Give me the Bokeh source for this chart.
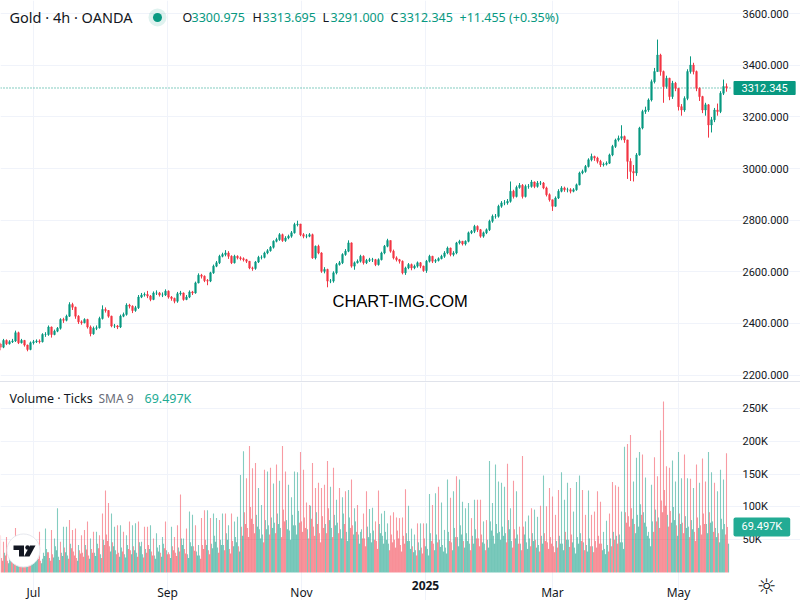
from bokeh.plotting import figure
from bokeh.models import Label, FixedTicker, Div, ColumnDataSource, NumeralTickFormatter
from bokeh.layouts import column
from bokeh.embed import file_html
from bokeh.resources import INLINE

FIRST_OPEN = 2320
CLOSE = [
2308,2334,2321,2329,2332,2364,2325,2334,2316,2299,
2325,2329,2332,2329,2357,2357,2386,2357,2370,2381,
2415,2412,2428,2473,2463,2428,2406,2403,2415,2386,
2360,2381,2383,2419,2454,2450,2428,2390,2390,2386,
2428,2435,2471,2467,2450,2461,2502,2510,2512,2506,
2493,2518,2518,2510,2510,2525,2502,2497,2486,2515,
2518,2493,2502,2522,2518,2557,2587,2583,2566,2564,
2596,2622,2635,2660,2667,2673,2660,2635,2660,2654,
2651,2647,2641,2615,2613,2638,2656,2656,2673,2682,2695,
2718,2725,2744,2721,2731,2738,2751,2783,2785,2744,
2738,2738,2744,2654,2699,2673,2602,2609,2564,2564,
2596,2628,2635,2667,2680,2712,2622,2635,2641,2660,
2635,2644,2647,2647,2628,2647,2673,2699,2721,2680,
2654,2647,2641,2596,2615,2628,2615,2622,2635,2622,
2605,2641,2660,2641,2644,2651,2660,2673,2692,2667,
2673,2712,2718,2708,2718,2751,2757,2776,2763,2738,
2751,2763,2796,2815,2815,2854,2867,2867,2873,
2912,2892,2927,2935,2892,2931,2931,2948,2931,2944,
2944,2925,2899,2879,2854,2886,2912,2925,2918,2918,
2912,2918,2937,2983,2989,3008,3034,3047,3041,3028,
3015,3017,3021,3053,3086,3111,3118,3124,3111,3028,
2989,2983,3053,3157,3221,
3227,3266,3337,3376,3440,3376,3318,3350,3279,3331,
3311,3240,3227,3272,3376,3401,3376,3311,3279,3227,
3247,3169,3189,3227,3221,3292,3318,3312.345]
HIGH = [
2325,2340,2338,2335,2340,2372,2368,2340,2336,2318,
2330,2336,2338,2338,2362,2366,2392,2388,2376,2386,
2420,2422,2434,2482,2480,2465,2432,2412,2420,2418,
2392,2388,2392,2426,2470,2462,2452,2430,2398,2394,
2434,2442,2478,2476,2470,2468,2510,2518,2520,2526,
2510,2524,2528,2522,2520,2532,2528,2506,2500,2522,
2526,2520,2510,2528,2526,2562,2594,2592,2586,2572,
2600,2628,2642,2666,2674,2684,2680,2664,2666,2664,
2660,2656,2650,2642,2620,2642,2662,2664,2678,2688,2700,
2722,2732,2750,2748,2738,2744,2758,2790,2798,2786,
2750,2746,2750,2748,2702,2705,2676,2618,2612,2572,
2602,2634,2642,2672,2688,2722,2714,2640,2648,2666,
2664,2650,2654,2654,2650,2652,2678,2704,2728,2722,
2686,2660,2650,2644,2620,2634,2632,2628,2640,2638,
2624,2646,2666,2662,2650,2656,2666,2680,2698,2694,
2680,2716,2724,2720,2722,2756,2762,2782,2780,2766,
2756,2768,2802,2822,2824,2860,2874,2878,2882,
2950,2918,2934,2944,2940,2938,2940,2956,2950,2952,
2952,2948,2930,2904,2880,2892,2920,2932,2930,2926,
2924,2924,2942,2988,2996,3014,3040,3058,3050,3046,
3034,3024,3028,3058,3092,3116,3128,3168,3128,3112,
3040,3014,3060,3162,3228,
3240,3272,3345,3390,3500,3445,3380,3360,3352,3340,
3336,3312,3250,3280,3385,3435,3410,3380,3315,3282,
3255,3250,3200,3235,3252,3300,3345,3330]
LOW = [
2296,2304,2316,2318,2324,2328,2320,2322,2310,2292,
2296,2318,2324,2322,2326,2348,2352,2345,2354,2366,
2376,2402,2408,2425,2452,2418,2398,2395,2400,2380,
2350,2356,2374,2380,2415,2442,2422,2385,2382,2378,
2382,2424,2430,2458,2440,2445,2456,2498,2504,2498,
2486,2490,2510,2504,2502,2506,2496,2488,2478,2480,
2508,2488,2490,2498,2510,2515,2555,2574,2560,2548,
2560,2592,2618,2630,2656,2660,2650,2630,2632,2648,
2644,2640,2634,2610,2604,2608,2634,2648,2652,2668,2678,
2690,2714,2720,2716,2716,2726,2732,2748,2776,2738,
2730,2730,2734,2650,2648,2668,2596,2594,2540,2556,
2558,2590,2624,2630,2662,2676,2616,2608,2632,2636,
2628,2630,2638,2638,2622,2624,2644,2668,2695,2674,
2648,2640,2632,2590,2588,2610,2606,2610,2616,2614,
2600,2596,2636,2634,2634,2640,2648,2654,2668,2660,
2660,2668,2706,2702,2702,2714,2746,2750,2754,2732,
2732,2746,2758,2790,2806,2810,2848,2858,2860,
2868,2884,2888,2922,2884,2888,2922,2926,2924,2926,
2936,2920,2892,2872,2836,2852,2882,2908,2910,2908,
2904,2908,2914,2935,2978,2984,3004,3028,3030,3020,
3006,3008,3012,3018,3048,3080,3105,3110,3100,2960,
2952,2950,2972,3050,3152,
3212,3220,3260,3330,3375,3360,3255,3310,3265,3270,
3300,3225,3205,3220,3265,3368,3365,3300,3262,3215,
3205,3120,3140,3180,3205,3215,3285,3298]
VOL_PEAK = [
57,47,54,37,47,68,42,47,37,42,37,31,47,62,21,67,31,65,52,98,
47,70,70,80,65,67,42,57,65,78,52,62,62,57,90,125,106,90,70,72,
72,62,57,78,72,75,78,47,70,70,72,52,60,42,54,78,31,70,54,72,
119,52,67,93,88,72,42,83,95,95,83,90,83,80,90,90,72,90,78,85,
149,185,144,193,159,167,129,103,157,154,160,
136,165,140,193,154,134,115,154,153,184,157,107,103,167,129,137,129,134,170,131,
160,111,129,115,124,126,142,98,103,62,90,124,97,99,78,125,90,94,75,87,
92,84,83,84,127,102,67,58,75,75,75,75,120,103,121,131,107,65,142,114,
124,147,142,108,98,106,83,111,111,111,78,80,170,106,165,139,137,131,166,98,
140,124,70,178,78,87,98,96,85,102,
148,101,129,116,88,126,153,111,137,129,93,138,148,126,88,125,88,93,124,108,
62,79,90,138,133,131,93,192,196,210,139,175,184,180,145,62,134,176,147,217,
261,162,160,171,139,184,144,180,144,143,129,165,137,174,139,184,153,137,124,157,
142,182]
VOL_PEAK_SIDE = (
"rrrgrrgrrg"+"rggrggrrgg"+"rggrrrgrrr"+"grgrrrrggr"+"grgrggrgrr"+"grgggrrgrr"+"rgrggrgrrg"+"rggrgrgrgg"+"ggrrrrggrgr"
+"grgrrggggr"+"rrrrrrrrrg"+"rgrgrgrgrg"+"rrggrrgggr"+"rrrrrgggrg"+"rggrgrgggr"+"grggggrgrr"+"grggggggrg"+"rgrrggrggr"
+"grrrrrgggr"+"gggrrgrrrr"+"ggrrrrggrr"+"gggrgggrrr"+"rrrggggrgr"+"grgrrggrgg"+"gr")
VOL_MID = [
22,30,18,26,34,20,28,16,30,24,20,34,26,18,30,36,22,28,40,24,
30,38,26,44,32,22,34,30,42,26,36,30,44,28,50,58,40,46,34,30,
38,28,42,34,40,30,46,28,36,42,32,26,38,30,44,34,28,40,30,38,
52,36,28,46,40,32,26,42,50,34,44,56,38,50,42,60,36,48,54,40,
70,92,68,100,74,88,66,58,80,72,84,
76,90,68,96,80,64,88,72,94,78,84,66,102,70,92,60,86,74,98,68,
88,76,66,90,62,84,72,78,58,66,52,70,60,64,48,74,56,62,44,58,
50,64,42,56,60,48,40,34,46,38,52,36,60,44,58,50,42,38,62,46,
68,54,72,48,60,44,56,66,52,58,44,50,78,56,74,62,70,60,80,48,
66,58,44,70,46,52,60,50,42,56,
60,46,54,40,48,56,44,62,50,58,38,54,60,46,42,52,40,48,56,44,
36,42,52,62,56,58,46,92,86,98,74,88,104,92,70,52,78,96,84,110,
126,88,94,100,72,90,76,86,70,80,62,84,72,90,74,92,78,68,60,82,
74,69.497]
VOL_LOW = [
18,26,14,22,29,16,23,13,26,19,15,28,21,14,25,31,18,23,34,19,
25,31,21,37,26,18,29,24,35,21,30,25,37,22,42,48,32,40,28,24,
32,23,36,28,34,24,40,23,30,36,26,21,32,24,37,28,22,34,25,32,
42,29,22,40,33,26,21,36,42,28,37,47,30,42,34,50,29,40,46,32,
56,74,54,82,60,70,52,46,66,58,68,
60,74,54,78,66,50,72,58,76,62,68,52,82,56,74,46,68,60,80,54,
72,60,52,74,48,68,58,62,44,52,40,54,46,50,36,60,44,50,34,46,
38,52,32,44,48,36,31,26,34,29,40,26,48,34,46,39,32,29,48,34,
54,40,58,38,48,34,44,52,40,46,34,38,64,44,60,50,56,46,66,38,
52,44,34,58,36,40,48,38,32,44,
48,36,44,31,38,44,34,50,39,46,29,44,48,34,32,40,31,38,44,34,
28,32,40,50,44,46,36,76,70,82,60,70,88,76,56,40,62,78,68,92,
102,70,76,80,56,74,60,68,54,66,48,68,58,74,60,76,62,54,46,66,
58,44]
PRICE_TICKS = [2200,2400,2600,2800,3000,3200,3400,3600]
VOL_TICKS = [50,100,150,200,250]
TIME_POS = [11,55.67,100.33,141.67,184,226]
TIME_LABELS = ["Jul","Sep","Nov","","Mar","May"]

UP, DOWN = "#089981", "#f23645"
TXT, GRID = "#131722", "#f0f3fa"
FONT = "Noto Sans"
AXFONT = "Roboto"
PANE_END = 244

n = len(CLOSE)
idx = list(range(n))
opens = [FIRST_OPEN]+CLOSE[:-1]
src = ColumnDataSource(dict(
    x=idx, o=opens, c=CLOSE, h=HIGH, l=LOW,
    col=[UP if c >= o else DOWN for o, c in zip(opens, CLOSE)]))

X_RANGE = (0, 800/3)
def common(fig, ticks):
    fig.xgrid.ticker = FixedTicker(ticks=TIME_POS)
    fig.ygrid.ticker = FixedTicker(ticks=ticks)
    fig.xgrid.grid_line_color = GRID
    fig.ygrid.grid_line_color = GRID
    fig.ygrid.bounds = (0, PANE_END)
    fig.outline_line_color = None
    ax = fig.yaxis[0]
    ax.fixed_location = PANE_END
    ax.ticker = FixedTicker(ticks=ticks)
    ax.axis_line_color = None
    ax.major_tick_line_color = None
    ax.minor_tick_line_color = None
    ax.major_label_text_font = AXFONT
    ax.major_label_text_font_size = "11px"
    ax.major_label_text_color = TXT
    ax.major_label_standoff = 4

p = figure(width=800, height=381, frame_width=800, frame_height=381,
           x_range=X_RANGE, y_range=(2174.9, 3651.4), y_axis_location="right",
           output_backend="svg", toolbar_location=None, min_border=0)
p.xaxis.visible = False
common(p, PRICE_TICKS)
p.yaxis[0].formatter = NumeralTickFormatter(format="0.000")
p.line([0, PANE_END], [CLOSE[-1], CLOSE[-1]], line_color=UP, line_dash=[1, 2], line_width=1)
p.segment("x", "l", "x", "h", source=src, line_color="col", line_width=1)
p.vbar("x", 0.55, "o", "c", source=src, fill_color="col", line_color="col", line_width=0.5)

def lab(fig, x_px, y, text, color=TXT, size="13px", font=FONT, **kw):
    fig.add_layout(Label(x=x_px/3, y=y, text=text, text_color=color, text_font=font,
                         text_font_size=size, text_baseline="middle", **kw))

HEAD = 3400+(64.9-17)/0.258
lab(p, 9, HEAD, "Gold · 4h · OANDA", size="14.5px")
p.scatter([157/3], [HEAD], size=18, marker="circle", fill_color=UP, fill_alpha=0.13, line_color=None)
p.scatter([157/3], [HEAD], size=9, marker="circle", fill_color=UP, line_color=None)
for x_px, t, c in [(182, "O", TXT), (191, "3300.975", UP), (252, "H", TXT), (262, "3313.695", UP),
                   (322, "L", TXT), (330, "3291.000", UP), (390, "C", TXT), (399, "3312.345", UP),
                   (459, "+11.455 (+0.35%)", UP)]:
    lab(p, x_px, HEAD, t, color=c, size="12.5px")
lab(p, 332, 3400-(300-64.9)/0.258, "CHART-IMG.COM", color="#000000", size="16.5px", font="Liberation Sans")
lab(p, 733, CLOSE[-1], "3312.345", color="#ffffff", size="11px", font=AXFONT,
    background_fill_color=UP, padding=(8, 3), border_radius=1)

sep = Div(width=800, height=1, margin=0, styles={"background": "#e0e3eb"})

def vy(y_page):
    return (572-y_page)/0.655

v = figure(width=800, height=218, frame_width=800, frame_height=218,
           x_range=X_RANGE, y_range=(vy(600), 290), y_axis_location="right",
           output_backend="svg", toolbar_location=None, min_border=0)
common(v, VOL_TICKS)
v.xgrid.bounds = (0, 290)
v.yaxis[0].major_label_overrides = {t: f"{t}K" for t in VOL_TICKS}
xa = v.xaxis[0]
xa.fixed_location = 0
xa.ticker = FixedTicker(ticks=TIME_POS)
xa.major_label_overrides = {t: l for t, l in zip(TIME_POS, TIME_LABELS)}
xa.axis_line_color = None
xa.major_tick_line_color = None
xa.minor_tick_line_color = None
xa.major_label_text_font = FONT
xa.major_label_text_font_size = "12px"
xa.major_label_text_color = TXT
xa.major_label_standoff = 6

low_side = VOL_PEAK_SIDE[1:]+"g"
v.vbar(x=[i+0.67 for i in idx], top=VOL_LOW, width=0.4, bottom=0, fill_alpha=0.55, line_color=None,
       fill_color=[UP if s == "g" else DOWN for s in low_side])
v.vbar(x=[i+0.33 for i in idx], top=VOL_MID, width=0.36, bottom=0, fill_alpha=0.5, line_color=None,
       fill_color=src.data["col"])
v.vbar(x=idx, top=VOL_PEAK, width=0.36, bottom=0, fill_alpha=0.5, line_color=None,
       fill_color=[UP if s == "g" else DOWN for s in VOL_PEAK_SIDE])

lab(v, 9, vy(398), "Volume · Ticks", size="12.5px")
lab(v, 98, vy(398), "SMA 9", color="#6a6d78", size="12px")
lab(v, 144, vy(398), "69.497K", color="#22ab94", size="12.5px")
lab(v, 733, VOL_MID[-1], "69.497K", color="#ffffff", size="11px", font=AXFONT,
    background_fill_color="#22ab94", padding=(8, 3), border_radius=2)
v.add_layout(Label(x=TIME_POS[3], y=vy(585), text="2025", text_color=TXT, text_font=FONT,
                   text_font_size="12px", text_font_style="bold",
                   text_align="center", text_baseline="middle"))
v.add_layout(Label(x=766/3, y=vy(586), text="☼", text_color=TXT, text_font="DejaVu Sans",
                   text_font_size="22px", text_align="center", text_baseline="middle"))

# TradingView logo badge
v.scatter([23/3], [vy(550)], size=33, marker="circle", fill_color="#ffffff", line_color="#e6e8ee", line_width=1)
def poly(pts, **kw):
    v.patch([a/3 for a, b in pts], [vy(b) for a, b in pts], fill_color="#131722", line_color=None, **kw)
poly([(13, 545), (23.5, 545), (23.5, 556), (18.5, 556), (18.5, 549.5), (13, 549.5)])
poly([(29.5, 545), (35, 545), (29, 556), (23.5, 556)])
v.scatter([27/3], [vy(547)], size=4.5, marker="circle", fill_color="#131722", line_color=None)

layout = column(p, sep, v, spacing=0, margin=0)
open("out.html", "w").write(file_html(layout, INLINE))
